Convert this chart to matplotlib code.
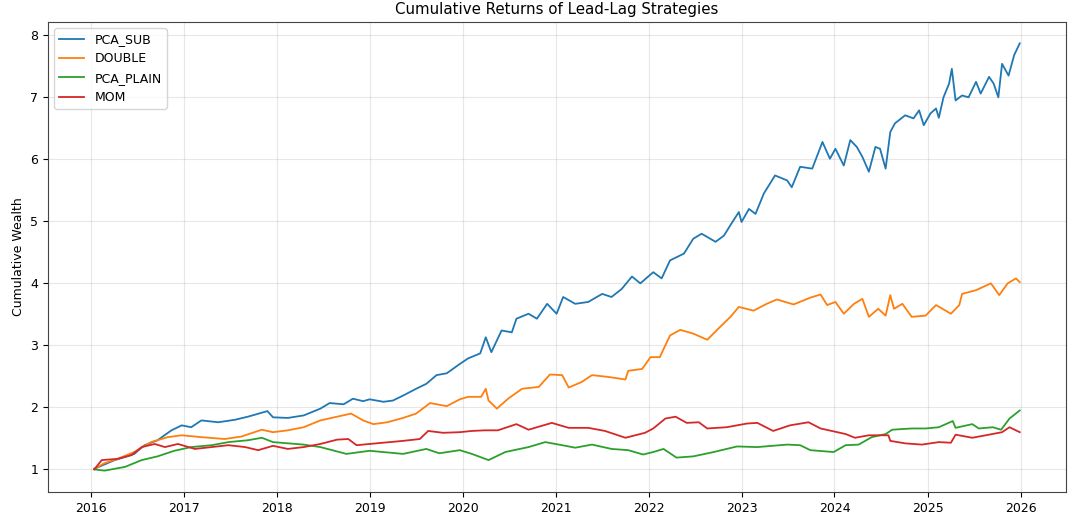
import matplotlib
matplotlib.use('Agg')
import matplotlib.pyplot as plt
import matplotlib.dates as mdates
import pandas as pd

# values: (decimal year, cumulative wealth)
pca_sub_t = [2016.04, 2016.15, 2016.26, 2016.37, 2016.47, 2016.58, 2016.72, 2016.87, 2016.98, 2017.08,
             2017.19, 2017.37, 2017.55, 2017.69, 2017.90, 2017.96, 2018.12, 2018.29, 2018.47, 2018.57,
             2018.72, 2018.82, 2018.93, 2019.00, 2019.15, 2019.25, 2019.36, 2019.50, 2019.61, 2019.72,
             2019.83, 2019.97, 2020.06, 2020.19, 2020.25, 2020.31, 2020.42, 2020.53, 2020.58, 2020.71,
             2020.80, 2020.91, 2021.01, 2021.08, 2021.21, 2021.35, 2021.50, 2021.60, 2021.71, 2021.82,
             2021.91, 2022.05, 2022.14, 2022.23, 2022.38, 2022.48, 2022.57, 2022.72, 2022.81, 2022.88,
             2022.97, 2023.00, 2023.08, 2023.15, 2023.24, 2023.36, 2023.49, 2023.54, 2023.63, 2023.76,
             2023.87, 2023.95, 2024.01, 2024.10, 2024.17, 2024.24, 2024.30, 2024.37, 2024.44, 2024.49,
             2024.55, 2024.60, 2024.65, 2024.76, 2024.85, 2024.91, 2024.96, 2025.03, 2025.09, 2025.12,
             2025.17, 2025.23, 2025.26, 2025.30, 2025.37, 2025.44, 2025.52, 2025.57, 2025.66, 2025.71,
             2025.76, 2025.80, 2025.87, 2025.93, 2025.99]
pca_sub_v = [1.01, 1.08, 1.15, 1.20, 1.25, 1.39, 1.47, 1.63, 1.71, 1.68,
             1.79, 1.76, 1.80, 1.85, 1.94, 1.84, 1.83, 1.87, 1.98, 2.07,
             2.05, 2.14, 2.10, 2.13, 2.09, 2.11, 2.19, 2.30, 2.38, 2.52,
             2.55, 2.70, 2.79, 2.87, 3.13, 2.89, 3.24, 3.21, 3.43, 3.51,
             3.43, 3.67, 3.51, 3.78, 3.67, 3.70, 3.83, 3.78, 3.91, 4.11,
             4.00, 4.18, 4.08, 4.37, 4.48, 4.72, 4.80, 4.67, 4.77, 4.94,
             5.15, 4.99, 5.20, 5.12, 5.45, 5.74, 5.66, 5.55, 5.88, 5.85,
             6.28, 6.01, 6.17, 5.90, 6.31, 6.20, 6.04, 5.80, 6.20, 6.17,
             5.85, 6.44, 6.58, 6.71, 6.66, 6.79, 6.55, 6.74, 6.82, 6.67,
             7.00, 7.22, 7.46, 6.95, 7.03, 7.00, 7.25, 7.06, 7.33, 7.22,
             7.00, 7.54, 7.35, 7.68, 7.87]

double_t = [2016.04, 2016.15, 2016.29, 2016.47, 2016.65, 2016.83, 2016.98, 2017.19, 2017.44, 2017.62,
            2017.84, 2017.96, 2018.12, 2018.29, 2018.47, 2018.65, 2018.80, 2018.93, 2019.04, 2019.19,
            2019.36, 2019.50, 2019.65, 2019.83, 2019.97, 2020.06, 2020.20, 2020.25, 2020.28, 2020.37,
            2020.49, 2020.64, 2020.82, 2020.94, 2021.07, 2021.14, 2021.28, 2021.39, 2021.57, 2021.75,
            2021.78, 2021.93, 2022.02, 2022.12, 2022.23, 2022.34, 2022.48, 2022.63, 2022.77, 2022.88,
            2022.97, 2023.13, 2023.27, 2023.38, 2023.56, 2023.74, 2023.85, 2023.92, 2024.01, 2024.10,
            2024.21, 2024.30, 2024.37, 2024.47, 2024.55, 2024.60, 2024.64, 2024.73, 2024.83, 2024.98,
            2025.09, 2025.25, 2025.34, 2025.37, 2025.52, 2025.68, 2025.77, 2025.86, 2025.95, 2025.99]
double_v = [1.01, 1.10, 1.17, 1.28, 1.44, 1.52, 1.55, 1.52, 1.49, 1.53,
            1.64, 1.60, 1.63, 1.68, 1.79, 1.85, 1.90, 1.79, 1.73, 1.76,
            1.83, 1.90, 2.07, 2.02, 2.13, 2.17, 2.17, 2.30, 2.11, 1.98,
            2.14, 2.30, 2.33, 2.53, 2.52, 2.32, 2.41, 2.52, 2.49, 2.45,
            2.59, 2.62, 2.81, 2.81, 3.16, 3.25, 3.19, 3.09, 3.30, 3.46,
            3.62, 3.56, 3.67, 3.74, 3.66, 3.77, 3.82, 3.65, 3.70, 3.51,
            3.67, 3.75, 3.46, 3.59, 3.48, 3.81, 3.59, 3.67, 3.46, 3.48,
            3.65, 3.51, 3.65, 3.83, 3.89, 4.00, 3.81, 4.00, 4.08, 4.02]

pca_plain_t = [2016.04, 2016.15, 2016.37, 2016.55, 2016.72, 2016.90, 2017.08, 2017.30, 2017.48, 2017.69,
               2017.84, 2017.96, 2018.29, 2018.47, 2018.75, 2019.00, 2019.36, 2019.61, 2019.75, 2019.97,
               2020.10, 2020.28, 2020.46, 2020.71, 2020.89, 2021.07, 2021.21, 2021.39, 2021.60, 2021.78,
               2021.94, 2022.05, 2022.16, 2022.30, 2022.48, 2022.70, 2022.95, 2023.17, 2023.49, 2023.63,
               2023.74, 2023.99, 2024.12, 2024.26, 2024.40, 2024.55, 2024.62, 2024.83, 2024.98, 2025.12,
               2025.27, 2025.30, 2025.48, 2025.55, 2025.70, 2025.79, 2025.88, 2025.99]
pca_plain_v = [1.00, 0.98, 1.04, 1.15, 1.21, 1.30, 1.36, 1.39, 1.44, 1.47,
               1.51, 1.44, 1.40, 1.36, 1.25, 1.30, 1.25, 1.33, 1.26, 1.31,
               1.25, 1.15, 1.28, 1.36, 1.44, 1.39, 1.35, 1.40, 1.33, 1.31,
               1.24, 1.28, 1.33, 1.19, 1.21, 1.28, 1.37, 1.36, 1.40, 1.39,
               1.31, 1.28, 1.39, 1.40, 1.52, 1.57, 1.64, 1.66, 1.66, 1.68,
               1.78, 1.67, 1.73, 1.66, 1.68, 1.64, 1.82, 1.95]

mom_t = [2016.04, 2016.12, 2016.29, 2016.44, 2016.55, 2016.69, 2016.80, 2016.94, 2017.12, 2017.30,
         2017.48, 2017.66, 2017.80, 2017.96, 2018.12, 2018.29, 2018.47, 2018.65, 2018.77, 2018.86,
         2019.00, 2019.36, 2019.54, 2019.63, 2019.79, 2019.97, 2020.10, 2020.24, 2020.38, 2020.58,
         2020.71, 2020.96, 2021.14, 2021.35, 2021.53, 2021.75, 2021.96, 2022.05, 2022.18, 2022.29,
         2022.41, 2022.54, 2022.63, 2022.84, 2023.06, 2023.17, 2023.34, 2023.52, 2023.72, 2023.85,
         2024.12, 2024.22, 2024.37, 2024.58, 2024.60, 2024.76, 2024.94, 2025.12, 2025.25, 2025.30,
         2025.48, 2025.66, 2025.80, 2025.88, 2025.99]
mom_v = [1.00, 1.15, 1.17, 1.23, 1.36, 1.41, 1.36, 1.41, 1.33, 1.36,
         1.39, 1.36, 1.31, 1.38, 1.33, 1.36, 1.41, 1.48, 1.49, 1.39,
         1.41, 1.46, 1.49, 1.62, 1.59, 1.60, 1.62, 1.63, 1.63, 1.73,
         1.64, 1.75, 1.67, 1.67, 1.62, 1.51, 1.59, 1.66, 1.82, 1.85,
         1.75, 1.76, 1.66, 1.68, 1.74, 1.75, 1.62, 1.71, 1.76, 1.66,
         1.57, 1.51, 1.55, 1.55, 1.46, 1.42, 1.40, 1.44, 1.43, 1.56,
         1.51, 1.56, 1.60, 1.68, 1.60]


def to_dates(years):
    """decimal year -> Timestamp"""
    return [pd.Timestamp(int(y), 1, 1) + pd.Timedelta(days=(y - int(y)) * 365.25) for y in years]


series = [
    ('PCA_SUB', pca_sub_t, pca_sub_v),
    ('DOUBLE', double_t, double_v),
    ('PCA_PLAIN', pca_plain_t, pca_plain_v),
    ('MOM', mom_t, mom_v),
]

fig = plt.figure(figsize=(10.8, 5.22), dpi=100)
ax = fig.add_axes([48 / 1080, 30 / 522, 1018 / 1080, 470 / 522])

for name, t, v in series:
    ax.plot(to_dates(t), v, linewidth=1.3, label=name)

ax.xaxis.set_major_locator(mdates.YearLocator())
ax.xaxis.set_major_formatter(mdates.DateFormatter('%Y'))
ax.tick_params(labelsize=9)
ax.set_ylabel('Cumulative Wealth', fontsize=9)
ax.set_title('Cumulative Returns of Lead-Lag Strategies', fontsize=10.8)
ax.legend(loc='upper left', fontsize=9)
ax.grid(True, alpha=0.3)
for s in ax.spines.values():
    s.set_color('#444444')

fig.savefig('out.png', dpi=100)
